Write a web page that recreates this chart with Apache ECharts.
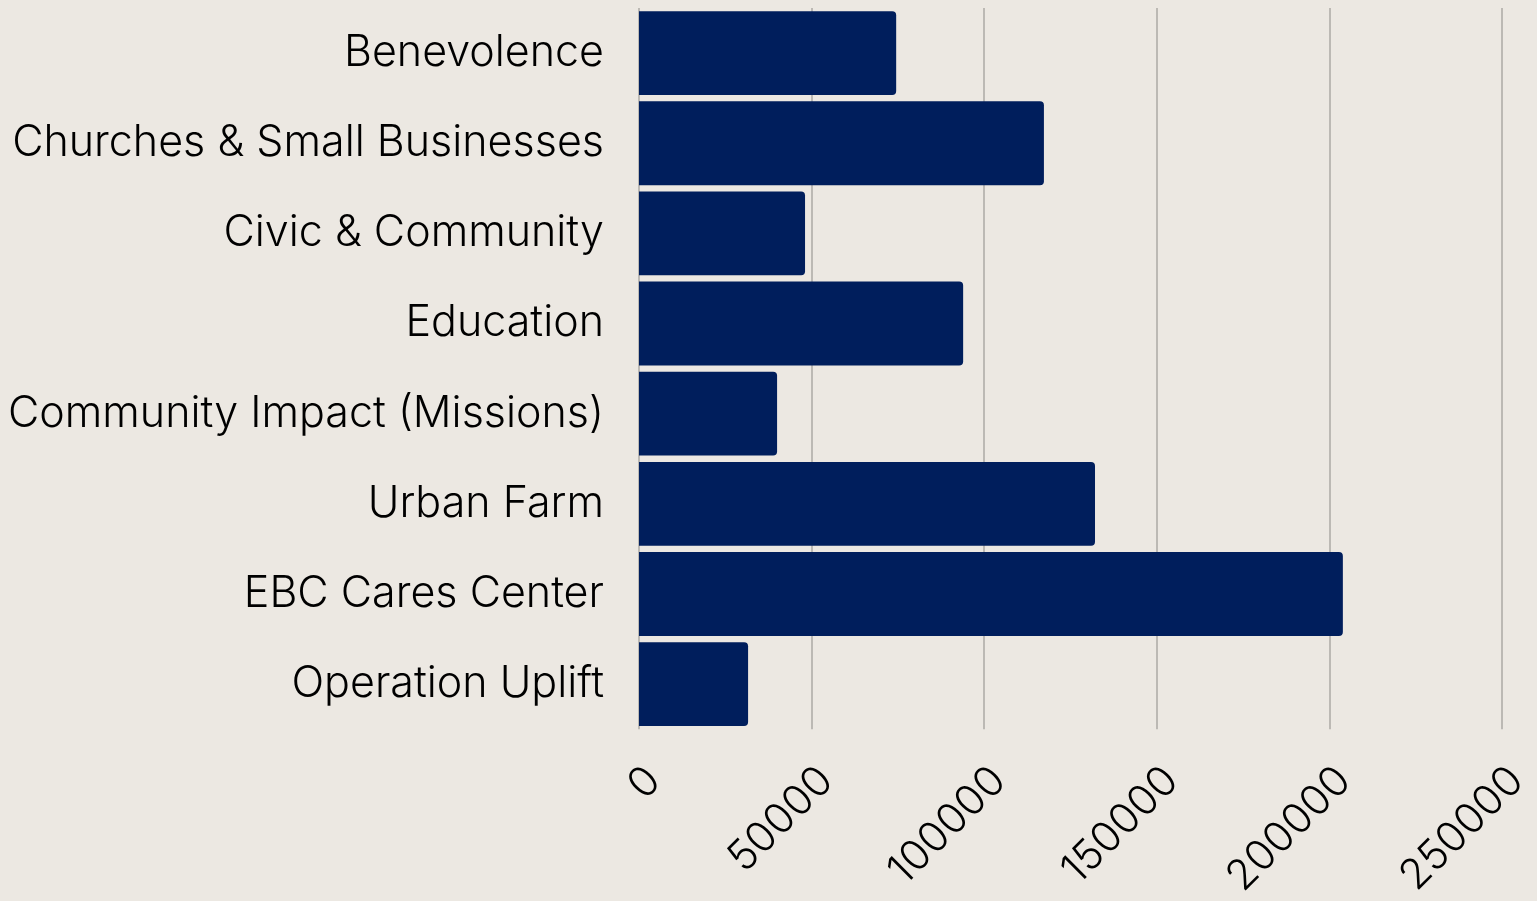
<!DOCTYPE html>
<html>
<head>
<meta charset="utf-8">
<script src="https://cdn.jsdelivr.net/npm/echarts@6/dist/echarts.min.js"></script>
<style>
  html, body { margin: 0; padding: 0; background: #ECE8E2; }
  #chart { width: 1537px; height: 901px; }
</style>
</head>
<body>
<div id="chart"></div>
<script>
// categories, top to bottom
var categories = ['Benevolence', 'Churches & Small Businesses', 'Civic & Community', 'Education',
    'Community Impact (Missions)', 'Urban Farm', 'EBC Cares Center', 'Operation Uplift'];
// amounts
var amounts = [74500, 117300, 48100, 93900, 40000, 132100, 203900, 31600];
var xTicks = [0, 50000, 100000, 150000, 200000, 250000];

var myChart = echarts.init(document.getElementById('chart'));

var option = {
    backgroundColor: '#ECE8E2',
    textStyle: { fontFamily: 'Inter' },
    grid: { left: 639, right: 35, top: 8, bottom: 170 },
    xAxis: {
        type: 'value',
        min: xTicks[0],
        max: xTicks[xTicks.length - 1],
        interval: 50000,
        axisLine: { show: false },
        axisTick: { show: false },
        splitLine: { lineStyle: { color: '#BCB9B4', width: 2 } },
        axisLabel: {
            rotate: 45,
            margin: 30,
            fontSize: 42,
            fontWeight: 300,
            color: '#000',
            verticalAlign: 'top',
            fontFamily: 'Inter',
            formatter: function (v) { return String(v); }
        }
    },
    yAxis: {
        type: 'category',
        inverse: true,
        data: categories,
        axisLine: { show: false },
        axisTick: { show: false },
        axisLabel: { margin: 35, fontSize: 43, fontWeight: 300, color: '#000', fontFamily: 'Inter' }
    },
    series: [{
        type: 'bar',
        data: amounts,
        barCategoryGap: '7%',
        itemStyle: { color: '#001E5C', borderRadius: [0, 4, 4, 0] }
    }]
};

myChart.setOption(option);
</script>
</body>
</html>
